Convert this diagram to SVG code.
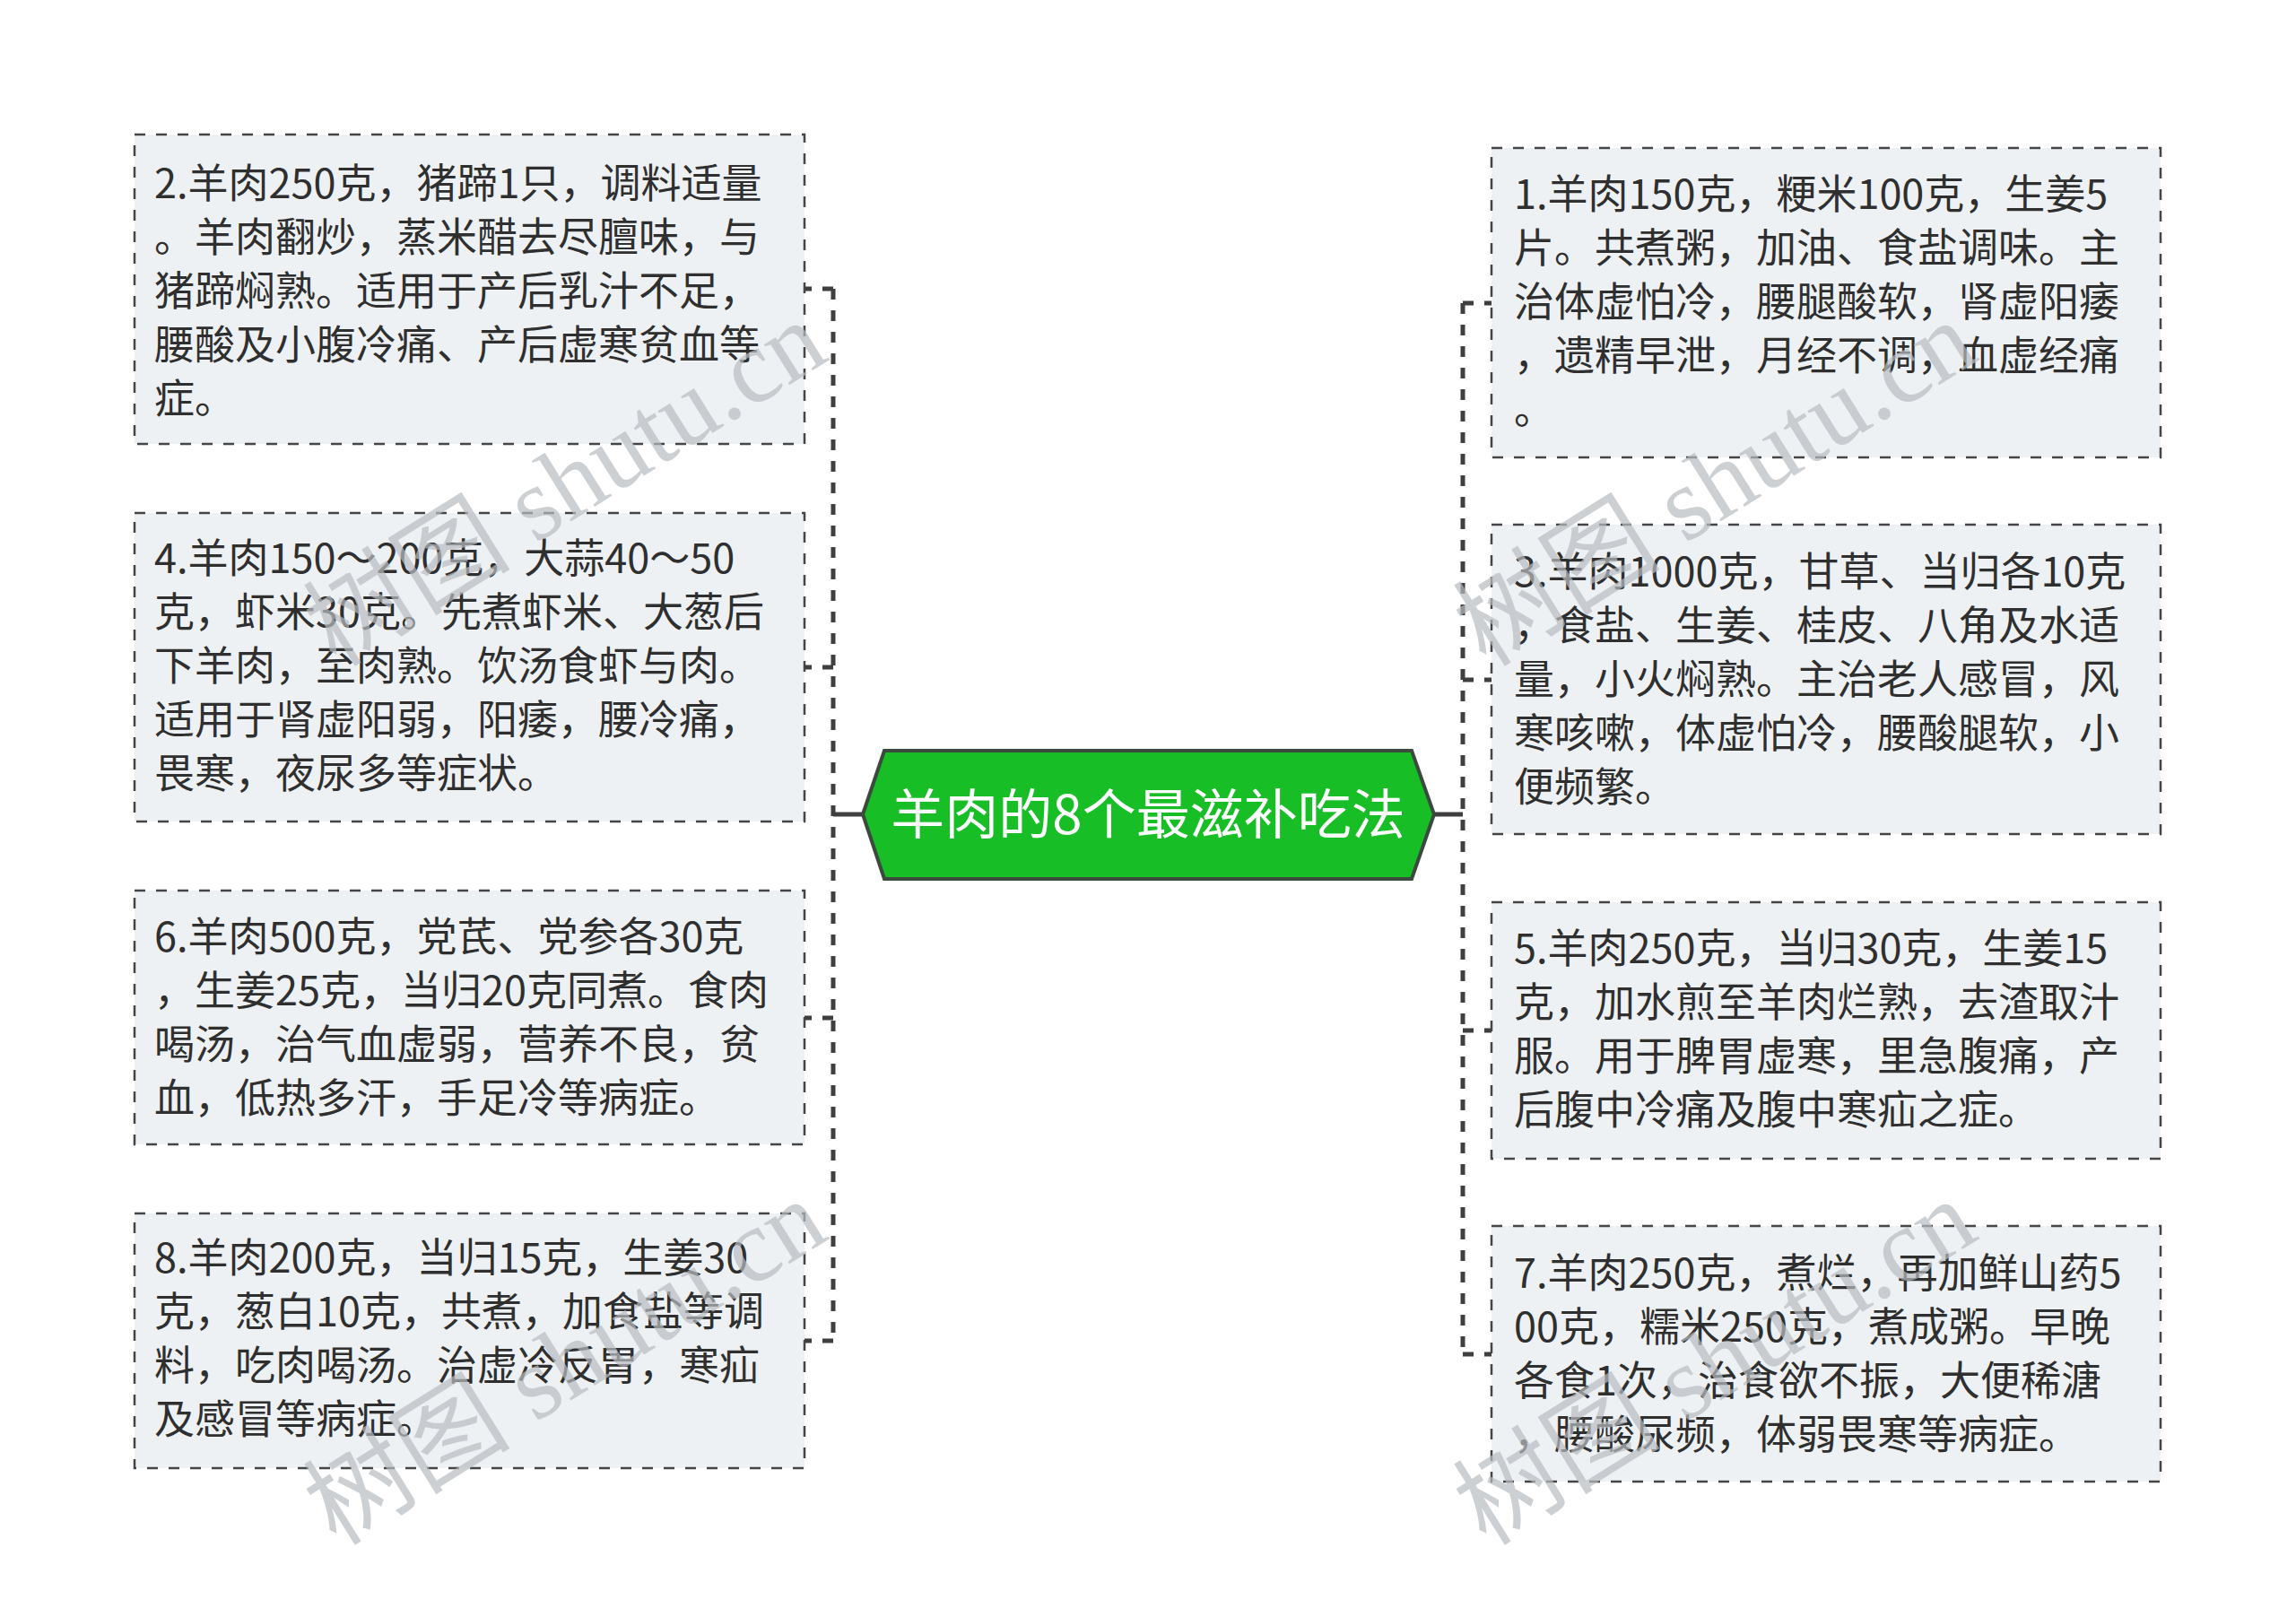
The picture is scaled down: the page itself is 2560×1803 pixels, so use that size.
<svg xmlns="http://www.w3.org/2000/svg" width="2560" height="1803" viewBox="0 0 2560 1803">
<style>
.bg{fill:#ffffff}
.box{fill:#EEF1F4;stroke:#454545;stroke-width:2.5;stroke-dasharray:12 12}
.t{font-family:"Noto Sans CJK SC","Noto Sans",sans-serif;font-size:45px;fill:#2f2f2f}
.ct{font-family:"Noto Sans CJK SC","Noto Sans",sans-serif;font-size:60px;fill:#ffffff}
.hex{fill:#17BE25;stroke:#3b4a3e;stroke-width:4}
.trunk{fill:none;stroke:#3f3f3f;stroke-width:5;stroke-dasharray:12 12}
.solid{fill:none;stroke:#3f3f3f;stroke-width:5}
.wm{font-family:"Liberation Serif","Noto Sans CJK SC",serif;font-size:116px;fill:#b8bcc0;fill-opacity:0.7}
</style>
<rect class="bg" x="0" y="0" width="2560" height="1803"/>
<g id="connectors">
<line class="solid" x1="962" y1="908" x2="929" y2="908"/>
<line class="trunk" x1="929" y1="322" x2="929" y2="1495"/>
<line class="trunk" x1="929" y1="322" x2="897" y2="322"/>
<line class="trunk" x1="929" y1="744" x2="897" y2="744"/>
<line class="trunk" x1="929" y1="1135" x2="897" y2="1135"/>
<line class="trunk" x1="929" y1="1495" x2="897" y2="1495"/>
<line class="solid" x1="1599" y1="908" x2="1631" y2="908"/>
<line class="trunk" x1="1631" y1="338" x2="1631" y2="1510"/>
<line class="trunk" x1="1631" y1="338" x2="1663" y2="338"/>
<line class="trunk" x1="1631" y1="758" x2="1663" y2="758"/>
<line class="trunk" x1="1631" y1="1149" x2="1663" y2="1149"/>
<line class="trunk" x1="1631" y1="1510" x2="1663" y2="1510"/>
</g>
<g id="center">
<polygon class="hex" points="962,908 986,837 1574,837 1599,908 1574,980 986,980"/>
<text class="ct" x="1280" y="930" text-anchor="middle">羊肉的8个最滋补吃法</text>
</g>
<g id="node2">
<rect class="box" x="150" y="150" width="747" height="345"/>
<text class="t" x="172" y="221">2.羊肉250克，猪蹄1只，调料适量</text>
<text class="t" x="172" y="281">。羊肉翻炒，蒸米醋去尽膻味，与</text>
<text class="t" x="172" y="341">猪蹄焖熟。适用于产后乳汁不足，</text>
<text class="t" x="172" y="401">腰酸及小腹冷痛、产后虚寒贫血等</text>
<text class="t" x="172" y="461">症。</text>
</g>
<g id="node4">
<rect class="box" x="150" y="572" width="747" height="344"/>
<text class="t" x="172" y="639">4.羊肉150～200克，大蒜40～50</text>
<text class="t" x="172" y="699">克，虾米30克。先煮虾米、大葱后</text>
<text class="t" x="172" y="759">下羊肉，至肉熟。饮汤食虾与肉。</text>
<text class="t" x="172" y="819">适用于肾虚阳弱，阳痿，腰冷痛，</text>
<text class="t" x="172" y="879">畏寒，夜尿多等症状。</text>
</g>
<g id="node6">
<rect class="box" x="150" y="993" width="747" height="283"/>
<text class="t" x="172" y="1061">6.羊肉500克，党芪、党参各30克</text>
<text class="t" x="172" y="1121">，生姜25克，当归20克同煮。食肉</text>
<text class="t" x="172" y="1181">喝汤，治气血虚弱，营养不良，贫</text>
<text class="t" x="172" y="1241">血，低热多汗，手足冷等病症。</text>
</g>
<g id="node8">
<rect class="box" x="150" y="1353" width="747" height="284"/>
<text class="t" x="172" y="1419">8.羊肉200克，当归15克，生姜30</text>
<text class="t" x="172" y="1479">克，葱白10克，共煮，加食盐等调</text>
<text class="t" x="172" y="1539">料，吃肉喝汤。治虚冷反胃，寒疝</text>
<text class="t" x="172" y="1599">及感冒等病症。</text>
</g>
<g id="node1">
<rect class="box" x="1663" y="165" width="746" height="345"/>
<text class="t" x="1688" y="233">1.羊肉150克，粳米100克，生姜5</text>
<text class="t" x="1688" y="293">片。共煮粥，加油、食盐调味。主</text>
<text class="t" x="1688" y="353">治体虚怕冷，腰腿酸软，肾虚阳痿</text>
<text class="t" x="1688" y="413">，遗精早泄，月经不调，血虚经痛</text>
<text class="t" x="1688" y="473">。</text>
</g>
<g id="node3">
<rect class="box" x="1663" y="585" width="746" height="345"/>
<text class="t" x="1688" y="654">3.羊肉1000克，甘草、当归各10克</text>
<text class="t" x="1688" y="714">，食盐、生姜、桂皮、八角及水适</text>
<text class="t" x="1688" y="774">量，小火焖熟。主治老人感冒，风</text>
<text class="t" x="1688" y="834">寒咳嗽，体虚怕冷，腰酸腿软，小</text>
<text class="t" x="1688" y="894">便频繁。</text>
</g>
<g id="node5">
<rect class="box" x="1663" y="1006" width="746" height="286"/>
<text class="t" x="1688" y="1074">5.羊肉250克，当归30克，生姜15</text>
<text class="t" x="1688" y="1134">克，加水煎至羊肉烂熟，去渣取汁</text>
<text class="t" x="1688" y="1194">服。用于脾胃虚寒，里急腹痛，产</text>
<text class="t" x="1688" y="1254">后腹中冷痛及腹中寒疝之症。</text>
</g>
<g id="node7">
<rect class="box" x="1663" y="1367" width="746" height="285"/>
<text class="t" x="1688" y="1436">7.羊肉250克，煮烂，再加鲜山药5</text>
<text class="t" x="1688" y="1496">00克，糯米250克，煮成粥。早晚</text>
<text class="t" x="1688" y="1556">各食1次，治食欲不振，大便稀溏</text>
<text class="t" x="1688" y="1616">，腰酸尿频，体弱畏寒等病症。</text>
</g>
<g id="watermarks">
<text class="wm" transform="translate(375,745) rotate(-32)">树图 shutu.cn</text>
<text class="wm" transform="translate(1657,745) rotate(-32)">树图 shutu.cn</text>
<text class="wm" transform="translate(375,1725) rotate(-32)">树图 shutu.cn</text>
<text class="wm" transform="translate(1657,1725) rotate(-32)">树图 shutu.cn</text>
</g>
</svg>
